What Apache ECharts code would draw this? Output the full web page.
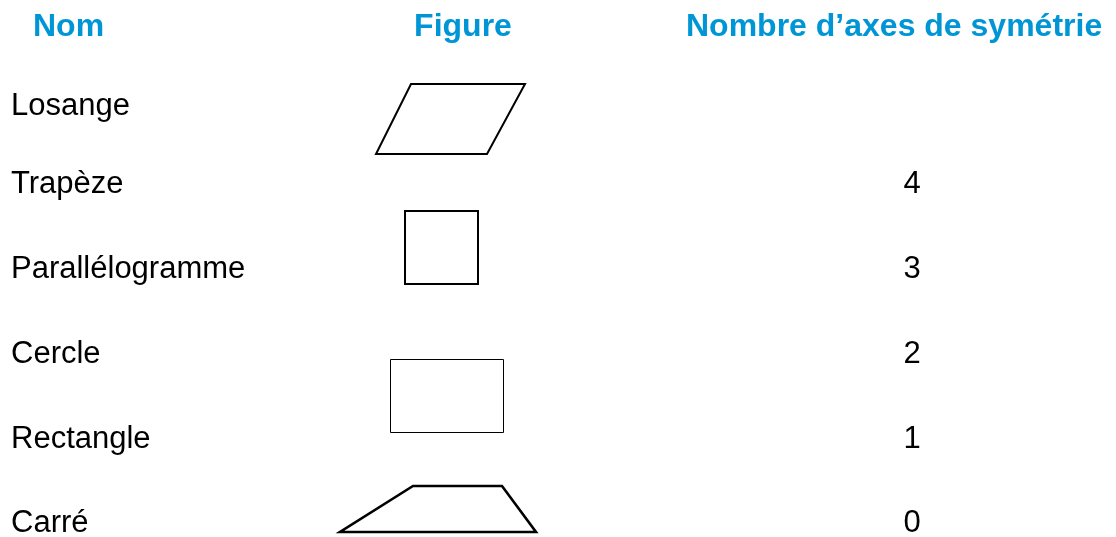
<!DOCTYPE html>
<html>
<head>
<meta charset="utf-8">
<script src="https://cdn.jsdelivr.net/npm/echarts@6/dist/echarts.min.js"></script>
<style>
html,body{margin:0;padding:0;background:#fff;}
#chart{width:1116px;height:537px;}
</style>
</head>
<body>
<div id="chart"></div>
<script>
// ---- data ----
const headers = ['Nom', 'Figure', 'Nombre d\u2019axes de symétrie'];
const names = ['Losange', 'Trapèze', 'Parallélogramme', 'Cercle', 'Rectangle', 'Carré'];
const symmetryCounts = [null, 4, 3, 2, 1, 0];
// figure outlines (vertices in chart units)
const parallelogram = [[411, 84], [525, 84], [487, 154], [376, 154]];
const square = [[405, 211], [478, 211], [478, 284], [405, 284]];
const rectangle = [[390.5, 359.5], [503.5, 359.5], [503.5, 432.5], [390.5, 432.5]];
const trapezoid = [[413, 486], [502, 486], [536, 532], [340, 532]];

// ---- layout ----
const W = 1116, H = 537;
const rowY = [106, 184, 269, 354, 439, 523];
const headerY = 27;
const nameX = 11, countX = 912;
const headerPos = [[33, 'left'], [463, 'center'], [686, 'left']];
const shapes = [parallelogram, square, rectangle, trapezoid];
const shapeWidths = [2, 2, 1, 2.6];
const blue = '#0096d6';
const font = '"Liberation Sans", Arial, Helvetica, sans-serif';

const chart = echarts.init(document.getElementById('chart'), null, {renderer: 'canvas'});

const nameData = names.map((n, i) => ({value: [nameX, rowY[i]], label: {formatter: n}}));
const countData = symmetryCounts
  .map((c, i) => c === null ? null : ({value: [countX, rowY[i]], label: {formatter: String(c)}}))
  .filter(d => d);
const headerData = headers.map((h, i) => ({
  value: [headerPos[i][0], headerY],
  label: {formatter: h, align: headerPos[i][1]}
}));

const textSeries = (data, label) => ({
  type: 'scatter',
  symbolSize: 0,
  itemStyle: {opacity: 1},
  data: data,
  label: Object.assign({show: true, position: 'inside', verticalAlign: 'middle', fontFamily: font, opacity: 1}, label),
  emphasis: {disabled: true},
  silent: true
});

chart.setOption({
  animation: false,
  backgroundColor: '#fff',
  grid: {left: 0, right: 0, top: 0, bottom: 0},
  xAxis: {type: 'value', min: 0, max: W, show: false},
  yAxis: {type: 'value', min: 0, max: H, inverse: true, show: false},
  series: [
    {
      type: 'custom',
      data: shapes.map((s, i) => [i]),
      renderItem: function (params, api) {
        const idx = api.value(0);
        const pts = shapes[idx].map(p => api.coord(p));
        return {
          type: 'polygon',
          shape: {points: pts},
          style: {fill: 'none', stroke: '#000', lineWidth: shapeWidths[idx], lineJoin: 'miter'}
        };
      },
      silent: true
    },
    textSeries(nameData, {align: 'left', color: '#000', fontSize: 31}),
    textSeries(countData, {align: 'center', color: '#000', fontSize: 31}),
    textSeries(headerData, {color: blue, fontSize: 32, fontWeight: 'bold'})
  ]
});
</script>
</body>
</html>
